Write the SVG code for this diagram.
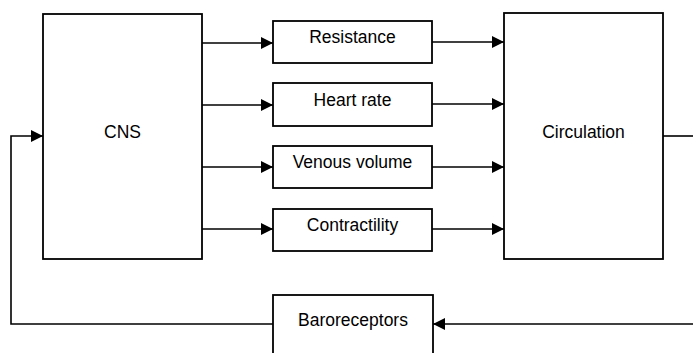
<svg xmlns="http://www.w3.org/2000/svg" width="693" height="353" viewBox="0 0 693 353">
<defs>
<marker id="ah" markerWidth="12" markerHeight="12" refX="12" refY="6" orient="auto" markerUnits="userSpaceOnUse">
<path d="M0,0 L12,6 L0,12 Z" fill="#000"/>
</marker>
</defs>
<style>
.box{fill:#fff;stroke:#000;stroke-width:1.8}
.lbl{font-family:"Liberation Sans",Arial,sans-serif;font-size:17.5px;fill:#000;text-anchor:middle}
.c{fill:none;stroke:#000;stroke-width:1.6}
</style>
<rect width="693" height="353" fill="#fff"/>
<g id="cns"><rect class="box" x="43" y="14" width="159" height="245"/><text class="lbl" x="122.5" y="138">CNS</text></g>
<g id="resistance"><rect class="box" x="273" y="21" width="159" height="42"/><text class="lbl" x="352.5" y="43">Resistance</text></g>
<g id="heartrate"><rect class="box" x="273" y="83" width="159" height="43"/><text class="lbl" x="352.5" y="106">Heart rate</text></g>
<g id="venous"><rect class="box" x="273" y="146" width="159" height="42"/><text class="lbl" x="352.5" y="168">Venous volume</text></g>
<g id="contractility"><rect class="box" x="273" y="209" width="159" height="42"/><text class="lbl" x="352.5" y="231">Contractility</text></g>
<g id="circulation"><rect class="box" x="504" y="13" width="159" height="246"/><text class="lbl" x="583.5" y="138">Circulation</text></g>
<g id="baroreceptors"><rect class="box" x="273" y="295" width="160" height="70"/><text class="lbl" x="353" y="326">Baroreceptors</text></g>
<g id="connectors">
<line class="c" x1="202" y1="43" x2="273" y2="43" marker-end="url(#ah)"/>
<line class="c" x1="202" y1="105" x2="273" y2="105" marker-end="url(#ah)"/>
<line class="c" x1="202" y1="167" x2="273" y2="167" marker-end="url(#ah)"/>
<line class="c" x1="202" y1="229" x2="273" y2="229" marker-end="url(#ah)"/>
<line class="c" x1="432" y1="42" x2="504" y2="42" marker-end="url(#ah)"/>
<line class="c" x1="432" y1="104" x2="504" y2="104" marker-end="url(#ah)"/>
<line class="c" x1="432" y1="167" x2="504" y2="167" marker-end="url(#ah)"/>
<line class="c" x1="432" y1="229" x2="504" y2="229" marker-end="url(#ah)"/>
<line class="c" x1="663" y1="136" x2="695" y2="136"/>
<line class="c" x1="695" y1="324" x2="433" y2="324" marker-end="url(#ah)"/>
<polyline class="c" points="273,324 11,324 11,136 43,136" marker-end="url(#ah)"/>
</g>
</svg>
